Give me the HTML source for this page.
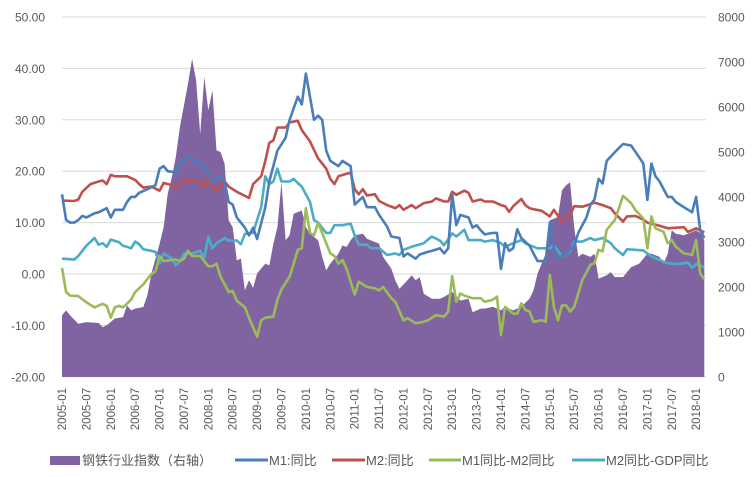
<!DOCTYPE html>
<html><head><meta charset="utf-8">
<style>
html,body{margin:0;padding:0;background:#fff;}
svg{display:block;font-family:"Liberation Sans","Noto Sans CJK SC",sans-serif;}
</style></head>
<body>
<svg id="chart" width="756" height="477" viewBox="0 0 756 477" xmlns="http://www.w3.org/2000/svg">
<g id="grid"></g>
<g id="area"></g>
<g id="lines"></g>
<g id="yleft"></g>
<g id="yright"></g>
<g id="xaxis"></g>
<g id="legend">
  <rect x="50" y="456" width="30" height="9" fill="#8064a2"/>
  <text x="82" y="465" font-size="13" fill="#595959">钢铁行业指数（右轴）</text>
  <line x1="235" y1="460" x2="268" y2="460" stroke="#4a7ebb" stroke-width="3"/>
  <text x="269" y="465" font-size="13" fill="#595959">M1:同比</text>
  <line x1="332" y1="460" x2="365" y2="460" stroke="#c0504d" stroke-width="3"/>
  <text x="366" y="465" font-size="13" fill="#595959">M2:同比</text>
  <line x1="429" y1="460" x2="461" y2="460" stroke="#9bbb59" stroke-width="3"/>
  <text x="462" y="465" font-size="13" fill="#595959">M1同比-M2同比</text>
  <line x1="572" y1="460" x2="605" y2="460" stroke="#4bacc6" stroke-width="3"/>
  <text x="606" y="465" font-size="13" fill="#595959">M2同比-GDP同比</text>
</g>
</svg>
<script>
// month index = months since 2005-01
const leftTicks = [-20,-10,0,10,20,30,40,50];
const leftTickLabels = ["-20.00","-10.00","0.00","10.00","20.00","30.00","40.00","50.00"];
const rightTicks = [0,1000,2000,3000,4000,5000,6000,7000,8000];
const xTickLabels = ["2005-01","2005-07","2006-01","2006-07","2007-01","2007-07","2008-01","2008-07","2009-01","2009-07","2010-01","2010-07","2011-01","2011-07","2012-01","2012-07","2013-01","2013-07","2014-01","2014-07","2015-01","2015-07","2016-01","2016-07","2017-01","2017-07","2018-01"];

const steelMonths = [0,1,2,4,6,9,10,11,13,15,16,17,18,20,21,22,24,25,26,27,28,29,31,32,33,34,35,36,37,38,39,40,41,42,43,44,45,46,47,48,50,51,52,53,54,55,56,57,59,60,61,63,64,65,66,68,69,70,71,72,74,75,77,78,79,81,82,83,85,86,87,88,89,91,93,94,96,98,100,101,103,104,106,108,109,111,113,115,116,117,119,120,122,123,124,125,126,127,128,130,131,132,134,135,136,138,139,140,142,144,145,147,148,149,150,151,153,154,156,157,158];
const steelVals = [1370,1480,1370,1185,1220,1200,1110,1150,1300,1330,1590,1480,1520,1555,1815,2300,2960,3330,4070,4440,4890,5555,6520,7070,6590,5400,6670,5930,6370,5040,5000,4740,3480,3330,2590,2630,1925,2150,1980,2300,2520,2480,2960,3330,4330,3040,3150,3630,3700,3330,3185,3040,2670,2370,2520,2740,2925,2890,3040,3150,3185,3070,3000,2960,2670,2410,2150,1960,2150,2260,2150,2220,1850,1740,1740,1780,1890,1700,1740,1440,1520,1520,1560,1480,1560,1480,1560,1740,1925,2300,2740,3480,3555,4150,4260,4330,3330,2670,2740,2670,2740,2185,2260,2330,2220,2220,2330,2440,2520,2740,2740,2670,2520,2740,3260,3185,3150,3185,3260,3200,3040];

const m1Months = [0,1,2,3,4,5,6,8,9,11,12,13,15,16,17,18,19,21,23,24,25,26,28,29,31,33,35,36,37,39,40,41,42,43,45,46,47,48,50,51,53,55,56,58,59,60,62,63,64,65,66,68,69,71,72,74,75,77,78,80,81,83,84,85,87,88,90,91,93,94,95,96,97,98,100,101,102,103,104,106,107,108,109,110,111,112,113,115,116,117,119,120,121,122,124,126,127,129,130,131,132,133,134,136,138,140,142,143,144,145,146,147,149,150,151,153,155,156,157,158];
const m1Vals = [15.5,10.5,10,10,10.5,11.3,11,11.8,12,12.8,11,12.5,12.5,14,15,15,15.8,16.5,17.3,20.5,21,20,19.8,21.5,22.7,22,21,19.5,18,19,18,14,13.5,11,9,7.5,9,6.8,13,18,24,26.5,30,34.5,33,39,30,30.8,30,24,22,21,22,21,13.5,15,13,13,11.5,9.2,7.3,7,3.4,4,3,3.8,4.3,4.5,5,4,5,15.5,9.5,11.5,11,9,9.5,8.5,7.7,8,8,1,6,4.5,5,8.7,7,5.5,4,2.5,2.5,10,5,3,4,5.5,8,11,13.5,14.5,18.5,17.6,22,23.7,25.3,25,22.7,21.5,14.4,21.5,19,18,15,15,14,13,12,15,8.5,7];

const m2Months = [0,3,4,5,7,9,10,11,12,13,16,18,19,20,22,24,25,27,28,30,31,33,35,36,37,38,40,41,43,45,46,47,49,50,51,52,53,55,56,58,59,61,63,64,65,66,67,68,70,71,72,73,74,75,77,78,80,82,83,84,86,87,89,91,92,94,95,96,97,99,100,101,103,104,106,108,109,110,111,113,114,115,116,118,120,121,123,125,126,128,130,131,133,135,136,138,139,141,143,144,147,149,153,154,156,158];
const m2Vals = [14.3,14.2,14.5,16,17.5,18,18.2,17.5,19.3,19,19,18.3,17.5,16.8,17,16.2,17.7,17.3,16.8,18.5,18,18.3,17,19,17,16.2,18,17,16,15.2,14.8,17.5,19,22,25.5,26,28.5,28.5,29.5,29.8,28,25.8,22.5,21.5,20.5,18.5,17.5,19,19.5,19.7,16.5,15.5,16.5,15.3,15.5,14.2,13.4,12.8,13.4,12.5,13.4,12.8,13.8,14.1,14.7,14.1,14.1,16,15.4,16.2,15.8,14.1,14.5,14.1,14.1,13.4,13.2,12.1,13.2,14.6,13.4,12.8,12.6,12.3,11.2,12.5,10.2,11.5,13.2,13.1,13.6,13.9,13.4,12.8,11.8,10.2,11.2,11.3,10.6,10,9.4,8.9,9.1,8.2,8.9,8.1];

const gapMonths = [0,1,2,4,6,8,10,11,12,13,14,15,17,18,20,21,22,23,24,25,28,29,30,31,32,34,35,36,37,38,39,41,42,43,45,46,48,49,50,52,53,54,56,57,58,59,60,61,62,63,65,66,67,68,69,70,72,73,75,77,78,79,81,82,84,85,87,89,90,92,94,95,96,97,98,99,101,103,104,106,107,108,109,111,112,113,114,115,116,118,119,120,121,122,123,124,125,126,128,130,131,132,133,134,136,137,138,140,141,143,144,145,146,148,149,150,151,153,155,156,157,158];
const gapVals = [1.2,-3.5,-4.2,-4.3,-5.5,-6.5,-5.8,-6.2,-8.5,-6.5,-6.2,-6.5,-5,-3.5,-2,-1,0,0.5,3.5,2.5,2.8,2.5,3,4.5,3.5,3.5,2.5,1.5,1.5,2,-0.5,-3.5,-3.3,-5.2,-6.5,-8.5,-12.2,-9,-8.5,-8.3,-5,-3,-0.5,2,4.7,5,12.8,8,7.5,10,6,4,3.5,2,2.7,1,-4,-1.5,-2.5,-2.8,-3.2,-2.5,-4.7,-5.4,-9,-8.6,-9.6,-9.3,-9,-8,-8.3,-7.3,-0.4,-5.4,-3.8,-4.2,-4.7,-4.7,-5.4,-5,-4.4,-11.9,-6.4,-7.7,-7.7,-5.7,-7,-7.3,-9.3,-9,-9.3,-0.2,-6.4,-9,-6.1,-6.1,-7.3,-6.4,-1.2,1.8,2.1,4.7,4.4,8.6,10.5,12.8,15.2,13.8,12.5,10.8,5,11.2,8.9,8.2,6,6.6,5.3,4,3.7,6.6,0.1,-1];

const gdpMonths = [0,3,4,6,8,9,10,11,12,14,15,16,17,18,19,20,22,23,24,25,27,28,29,30,32,34,35,36,37,38,40,41,43,44,45,47,48,49,50,51,52,53,54,56,57,58,59,61,62,63,65,66,67,69,71,72,73,75,76,78,80,82,83,84,86,89,90,91,93,94,96,97,99,100,103,104,106,108,109,111,113,114,115,117,120,121,123,125,126,128,130,131,133,135,136,138,139,141,143,145,148,149,151,154,155,156,158];
const gdpVals = [3,2.8,3.5,5.5,7,5.7,6,5.3,6.7,6.2,5.5,5.3,5,6.3,5.8,4.8,4.5,4.3,2.1,4,3,1.7,2.5,4,4,4.5,3.2,7.2,5,6,7,6.5,6.5,5.8,7.8,8,10.5,13,19,17.5,18,20.5,18,18,18.5,17.7,17,14,10.5,10,8,8,9.5,9.5,9.8,7.5,5.7,5.7,5,5,3.7,4,3.7,4.7,5.3,6,6.7,7.3,6.5,5.6,7.9,7.3,8.6,6.6,6.6,6.3,6.6,6,5.3,6,6.6,6,5.6,5,5,5.6,3.4,4.4,6.3,6.3,7,6.6,7,6,5,3.7,4.8,4.7,4.6,3.4,2.4,2.1,1.9,2.2,1.2,1.9,1.3];

const NS = "http://www.w3.org/2000/svg";
const X0 = 62, PX_PER_MONTH = 4.065, XR = 706;
const xScale = m => X0 + m * PX_PER_MONTH;
const yLeft = v => 274 - v * 5.14;
const yRight = v => 377 - v * 0.045;
function mk(tag, attrs, parent){ const e=document.createElementNS(NS,tag); for(const k in attrs) e.setAttribute(k,attrs[k]); parent.appendChild(e); return e; }

const grid = document.getElementById('grid');
leftTicks.forEach((t,i)=>{
  const l = mk('line',{x1:X0,x2:XR,y1:yLeft(t),y2:yLeft(t),stroke:'#d9d9d9','stroke-width':1},grid);
  
  
  const tx = mk('text',{x:45,y:yLeft(t)+4.5,'text-anchor':'end','font-size':12,fill:'#595959'},document.getElementById('yleft'));
  tx.textContent = leftTickLabels[i];
  
  
});
rightTicks.forEach(t=>{
  const tx = mk('text',{x:718,y:yRight(t)+4.5,'font-size':12,fill:'#595959'},document.getElementById('yright'));
  tx.textContent = String(t);
  
  
});
xTickLabels.forEach((lab,i)=>{
  const x = xScale(i*6)+4;
  const tx = mk('text',{x:0,y:0,'text-anchor':'end','font-size':11.5,fill:'#595959',transform:`translate(${x},388) rotate(-90)`},document.getElementById('xaxis'));
  tx.textContent = lab;
  
  
});

// area
let d = `M${xScale(steelMonths[0])},${yRight(0)}`;
steelMonths.forEach((m,i)=>{ d += ` L${xScale(m).toFixed(1)},${yRight(steelVals[i]).toFixed(1)}`; });
d += ` L${xScale(steelMonths[steelMonths.length-1])},${yRight(0)} Z`;
const ar = mk('path',{d:d,fill:'#8064a2'},document.getElementById('area'));



function drawLine(months, vals, color, name){
  const pts = months.map((m,i)=>xScale(m).toFixed(1)+','+yLeft(vals[i]).toFixed(1)).join(' ');
  const p = mk('polyline',{points:pts,fill:'none',stroke:color,'stroke-width':2.6,'stroke-linejoin':'round'},document.getElementById('lines'));
  
  
}
drawLine(m2Months, m2Vals, '#c0504d', 'm2-line');
drawLine(gdpMonths, gdpVals, '#4bacc6', 'm2-gdp-line');
drawLine(gapMonths, gapVals, '#9bbb59', 'm1-m2-line');
drawLine(m1Months, m1Vals, '#4a7ebb', 'm1-line');
</script>
</body></html>
